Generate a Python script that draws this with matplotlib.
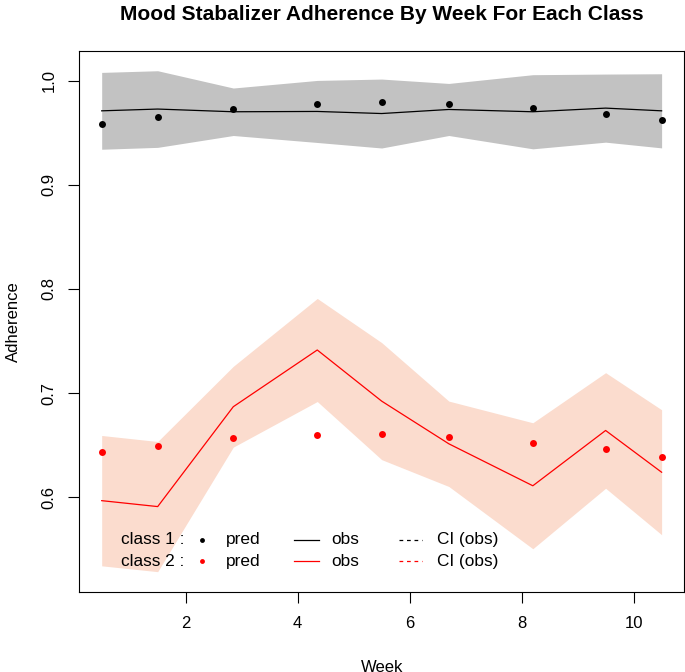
import matplotlib
matplotlib.use('Agg')
import matplotlib.pyplot as plt
from matplotlib.lines import Line2D

plt.rcParams['font.family'] = ['Liberation Sans', 'DejaVu Sans']

# week positions of each point
weeks = [0.5, 1.5, 2.85, 4.35, 5.5, 6.7, 8.2, 9.5, 10.5]

# class 1
c1_pred = [0.958, 0.965, 0.973, 0.978, 0.9795, 0.978, 0.974, 0.9685, 0.962]
c1_obs = [0.9711, 0.9728, 0.9702, 0.9705, 0.9685, 0.9724, 0.9702, 0.9737, 0.9711]
c1_hi = [1.0080, 1.0096, 0.9930, 1.0003, 1.0016, 0.9974, 1.0058, 1.0064, 1.0067]
c1_lo = [0.9342, 0.9360, 0.9474, 0.9407, 0.9354, 0.9474, 0.9346, 0.9410, 0.9355]

# class 2
c2_pred = [0.643, 0.6494, 0.6564, 0.6602, 0.6605, 0.658, 0.6522, 0.6465, 0.6391]
c2_obs = [0.5967, 0.591, 0.6869, 0.7414, 0.6923, 0.6513, 0.611, 0.6641, 0.624]
c2_hi = [0.6593, 0.6535, 0.7257, 0.7909, 0.7485, 0.6923, 0.6715, 0.7196, 0.684]
c2_lo = [0.5341, 0.5285, 0.6481, 0.6919, 0.6361, 0.6103, 0.5505, 0.6086, 0.564]

y_ticks = [0.6, 0.7, 0.8, 0.9, 1.0]
x_ticks = [2, 4, 6, 8, 10]

fig = plt.figure(figsize=(6.85, 6.72), dpi=100)
ax = fig.add_axes([79.3 / 685, 80.3 / 672, 604.7 / 685, 541 / 672])

ax.fill_between(weeks, c1_lo, c1_hi, color='#C2C2C2', lw=0)
ax.fill_between(weeks, c2_lo, c2_hi, color='#FBDCCE', lw=0)
ax.plot(weeks, c1_obs, color='black', lw=0.9)
ax.plot(weeks, c2_obs, color='#FF0000', lw=0.9)
ax.plot(weeks, c1_pred, 'o', color='black', ms=5, mec='none')
ax.plot(weeks, c2_pred, 'o', color='#FF0000', ms=5, mec='none')

# R style 4% padding
xs = max(weeks) - min(weeks)
ax.set_xlim(min(weeks) - 0.04 * xs, max(weeks) + 0.04 * xs)
ymin = min(c1_lo + c2_lo)
ymax = max(c1_hi + c2_hi)
ys = ymax - ymin
ax.set_ylim(ymin - 0.04 * ys, ymax + 0.04 * ys)

ax.set_xticks(x_ticks)
ax.set_xticklabels([str(t) for t in x_ticks])
ax.set_yticks(y_ticks)
ax.set_yticklabels([f'{t:.1f}' for t in y_ticks])
ax.tick_params(length=7.9, width=0.8, labelsize=12, direction='out')
ax.tick_params(axis='x', pad=9.5)
ax.tick_params(axis='y', pad=8.5)
plt.setp(ax.get_yticklabels(), rotation=90, va='center')
for s in ax.spines.values():
    s.set_linewidth(0.8)

ax.set_xlabel('Week', fontsize=12)
ax.xaxis.set_label_coords(0.5, -0.141)
ax.xaxis.label.set_va('center')
ax.set_ylabel('Adherence', fontsize=12)
ax.yaxis.set_label_coords(-0.1096, 0.5)
ax.yaxis.label.set_va('center')

fig.text(381.6 / 685, 1 - 15 / 672, 'Mood Stabalizer Adherence By Week For Each Class',
         ha='center', va='center', fontsize=15, fontweight='bold')

# legend drawn R-style in axes coordinates
tr = ax.transAxes
rows = [(0.0956, 'class 1 :', 'black'), (0.0566, 'class 2 :', '#FF0000')]
for y, lab, col in rows:
    ax.text(0.069, y, lab, transform=tr, fontsize=12.4, va='center')
    ax.add_line(Line2D([0.203], [y], transform=tr, marker='o', ms=3.5, color=col, mec='none'))
    ax.text(0.243, y, 'pred', transform=tr, fontsize=12.4, va='center')
    ax.add_line(Line2D([0.355, 0.396], [y, y], transform=tr, color=col, lw=0.9))
    ax.text(0.416, y, 'obs', transform=tr, fontsize=12.4, va='center')
    ax.add_line(Line2D([0.529, 0.567], [y, y], transform=tr, color=col, lw=0.9, ls=(0, (3, 3))))
    ax.text(0.592, y, 'CI (obs)', transform=tr, fontsize=12.4, va='center')

fig.savefig('out.png', dpi=100)
